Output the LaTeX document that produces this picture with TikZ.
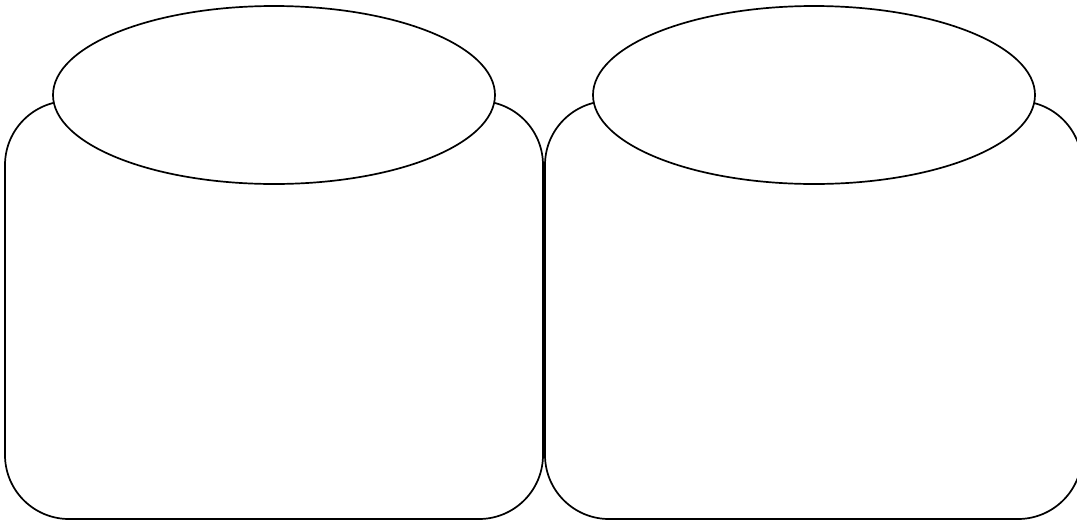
\documentclass[tikz,border=0pt]{standalone}
\usetikzlibrary{shapes.geometric}
\begin{document}
\begin{tikzpicture}[x=1pt,y=-1pt,
  jar/.style={draw=black,line width=1.7pt,rounded corners=64pt,fill=white},
  lid/.style={draw=black,line width=1.7pt,fill=white,ellipse,inner sep=0pt}]
\useasboundingbox (0,0) rectangle (1077,523);
\clip (0,0) rectangle (1077,523);
% left jar
\draw[jar] (5,101) rectangle (543,519);
\node[lid,minimum width=442pt,minimum height=178pt] (lidL) at (274,95) {};
% right jar
\draw[jar] (545,101) rectangle (1082,519);
\node[lid,minimum width=442pt,minimum height=178pt] (lidR) at (814,95) {};
\end{tikzpicture}
\end{document}
